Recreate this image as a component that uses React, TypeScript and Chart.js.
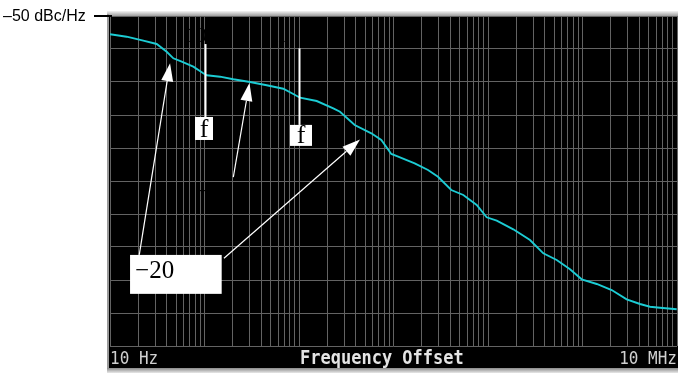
import React, { useEffect, useRef } from "react";
import { Chart, registerables } from "chart.js";

Chart.register(...registerables);

// ---- data ----
const freqHz = [
  10, 15.0, 22.5, 31.2, 39.8, 46.8, 57.4, 76.1, 97.1, 105.5, 145.9, 201.8, 303, 455, 682, 870,
  1025, 1539, 2307, 2716, 3885, 5824, 7430, 9478, 10706, 16760, 23180, 29570, 40890, 54780,
  75930, 96870, 123640, 185200, 278260, 384800, 533300, 737500, 980600, 1414000, 2037000,
  2935000, 4060000, 5180000, 6610000, 9930000,
];
const noiseDbcHz = [
  -55.55, -56.27, -57.48, -58.48, -60.82, -62.82, -63.85, -65.36, -67.36, -67.97, -68.39, -69.18,
  -70.0, -71.0, -72.03, -73.64, -74.76, -75.76, -77.97, -79.0, -83.03, -85.55, -87.58, -91.82,
  -92.42, -94.64, -96.67, -98.7, -102.73, -104.24, -107.27, -111.0, -112.03, -114.64, -117.88,
  -121.91, -123.94, -126.76, -129.79, -131.21, -133.03, -135.85, -137.27, -138.09, -138.39,
  -138.88,
];
const yTopDb = -50;
const yBottomDb = -150;
const yStepDb = 10;
const xMinHz = 10;
const xMaxHz = 1e7;
const decadeStarts = [10, 100, 1000, 1e4, 1e5, 1e6];
const decadeMultipliers = [1, 2, 3, 4, 5, 6, 7, 8, 9];
const xGridValues = decadeStarts
  .flatMap((d) => decadeMultipliers.map((m) => m * d))
  .concat([xMaxHz]);

const refLevelLabel = "\u201350 dBc/Hz";
const startLabel = "10 Hz";
const stopLabel = "10 MHz";
const axisTitle = "Frequency Offset";

// annotations (data coordinates)
const markerFreqs = [100, 1000];
const markerTopDb = [-58.5, -59.8];
const markerBottomDb = [-80.6, -83.0];
const markerText = ["f", "f"];
const slopeArrowFrom = [
  [20.4, -122.4],
  [201.8, -98.8],
  [160.7, -123.4],
];
const slopeArrowTo = [
  [43.2, -64.3],
  [299, -70.3],
  [4421, -87.4],
];
const slopeBoxCorners = [16.3, -122.4, 152, -134.2];
const slopeBoxText = "\u221220";
const hiddenTexts = ["10", "1", "\u221210"];
const hiddenTextPos = [
  [62.2, -57.9],
  [585, -57.9],
  [79.3, -105.2],
];

const framePlugin = {
  id: "frame",
  beforeDraw(chart: any) {
    const { ctx, chartArea } = chart;
    const W = chart.width;
    const H = chart.height;
    ctx.save();
    ctx.fillStyle = "#ffffff";
    ctx.fillRect(0, 0, W, H);
    const g = ctx.createLinearGradient(0, 11, 0, 16);
    g.addColorStop(0, "#f4f4f4");
    g.addColorStop(1, "#9c9c9c");
    ctx.fillStyle = g;
    ctx.fillRect(chartArea.left - 3, 11, W - chartArea.left + 3, 5);
    ctx.fillStyle = "#9a9a9a";
    ctx.fillRect(chartArea.left - 3, 14, 2, H - 14);
    const gb = ctx.createLinearGradient(0, 368, 0, H);
    gb.addColorStop(0, "#8a8a8a");
    gb.addColorStop(1, "#e8e8e8");
    ctx.fillStyle = gb;
    ctx.fillRect(chartArea.left - 3, 368, W - chartArea.left + 3, H - 368);
    ctx.fillStyle = "#000000";
    ctx.fillRect(chartArea.left - 1, chartArea.top, W - chartArea.left + 1, 368 - chartArea.top);
    ctx.restore();
  },
  afterDraw(chart: any) {
    const { ctx, chartArea, scales } = chart;
    const xs = scales.x;
    const ys = scales.y;
    ctx.save();

    ctx.fillStyle = "#000000";
    ctx.font = '22px "Liberation Serif", serif';
    ctx.textBaseline = "alphabetic";
    hiddenTexts.forEach((t, i) => {
      ctx.fillText(t, xs.getPixelForValue(hiddenTextPos[i][0]), ys.getPixelForValue(hiddenTextPos[i][1]));
    });

    markerFreqs.forEach((f, i) => {
      const x = Math.round(xs.getPixelForValue(f)) + 0.5;
      const y1 = ys.getPixelForValue(markerTopDb[i]);
      const y2 = ys.getPixelForValue(markerBottomDb[i]);
      ctx.strokeStyle = "#ffffff";
      ctx.lineWidth = 2;
      ctx.beginPath();
      ctx.moveTo(x, y1);
      ctx.lineTo(x, y2);
      ctx.stroke();
      ctx.font = '26px "Liberation Serif", serif';
      const w = i === 0 ? 18 : 22;
      const h = i === 0 ? 23 : 21;
      const bx = x - (i === 0 ? 10.5 : 9.5);
      ctx.fillStyle = "#ffffff";
      ctx.fillRect(bx, y2, w, h);
      ctx.fillStyle = "#000000";
      ctx.textAlign = "center";
      ctx.fillText(markerText[i], bx + w / 2, y2 + h - 3);
    });

    ctx.textAlign = "left";
    slopeArrowFrom.forEach((from, i) => {
      const x1 = xs.getPixelForValue(from[0]);
      const y1 = ys.getPixelForValue(from[1]);
      const x2 = xs.getPixelForValue(slopeArrowTo[i][0]);
      const y2 = ys.getPixelForValue(slopeArrowTo[i][1]);
      const ang = Math.atan2(y2 - y1, x2 - x1);
      const len = 18;
      const half = 6;
      const bx = x2 - len * Math.cos(ang);
      const by = y2 - len * Math.sin(ang);
      ctx.strokeStyle = "#ffffff";
      ctx.lineWidth = 1.2;
      ctx.beginPath();
      ctx.moveTo(x1, y1);
      ctx.lineTo(bx, by);
      ctx.stroke();
      ctx.fillStyle = "#ffffff";
      ctx.beginPath();
      ctx.moveTo(x2, y2);
      ctx.lineTo(bx + half * Math.sin(ang), by - half * Math.cos(ang));
      ctx.lineTo(bx - half * Math.sin(ang), by + half * Math.cos(ang));
      ctx.closePath();
      ctx.fill();
    });

    const l = xs.getPixelForValue(slopeBoxCorners[0]);
    const t = ys.getPixelForValue(slopeBoxCorners[1]);
    const r = xs.getPixelForValue(slopeBoxCorners[2]);
    const b = ys.getPixelForValue(slopeBoxCorners[3]);
    ctx.fillStyle = "#ffffff";
    ctx.fillRect(l, t, r - l, b - t);
    ctx.fillStyle = "#000000";
    ctx.font = '25px "Liberation Serif", serif';
    ctx.fillText(slopeBoxText, l + 5, t + 23);

    const bandBase = 364;
    const drawStretched = (txt: string, x: number, align: CanvasTextAlign, font: string, color: string) => {
      ctx.save();
      ctx.font = font;
      ctx.fillStyle = color;
      ctx.textAlign = align;
      ctx.translate(x, bandBase);
      ctx.scale(1, 1.14);
      ctx.fillText(txt, 0, 0);
      ctx.restore();
    };
    drawStretched(startLabel, chartArea.left, "left", '16px "DejaVu Sans Mono", monospace', "#d0d0d0");
    drawStretched(axisTitle, 300, "left", 'bold 17px "DejaVu Sans Mono", monospace', "#e4e4e4");
    drawStretched(stopLabel, chartArea.right, "right", '16px "DejaVu Sans Mono", monospace', "#d0d0d0");

    const yRef = Math.round(ys.getPixelForValue(yTopDb));
    ctx.fillStyle = "#000000";
    ctx.font = '16px "Liberation Sans", Arial, sans-serif';
    ctx.textAlign = "left";
    ctx.fillText(refLevelLabel, 3, yRef + 5);
    ctx.fillRect(94, yRef - 1, 18, 2);

    ctx.restore();
  },
};

export default function App() {
  const ref = useRef<HTMLCanvasElement | null>(null);
  useEffect(() => {
    document.body.style.margin = "0";
    if (!ref.current) return;
    const chart = new Chart(ref.current, {
      type: "line",
      data: {
        datasets: [
          {
            data: freqHz.map((f, i) => ({ x: f, y: noiseDbcHz[i] })),
            borderColor: "#1cccd4",
            borderWidth: 1.9,
            pointRadius: 0,
            tension: 0,
            fill: false,
          },
        ],
      },
      options: {
        animation: false,
        responsive: false,
        maintainAspectRatio: false,
        devicePixelRatio: 1,
        layout: { padding: { left: 110, right: 1, top: 16, bottom: 27 } },
        plugins: { legend: { display: false }, tooltip: { enabled: false } },
        events: [],
        scales: {
          x: {
            type: "logarithmic",
            min: xMinHz,
            max: xMaxHz,
            afterBuildTicks: (scale: any) => {
              scale.ticks = xGridValues.map((v) => ({ value: v }));
            },
            ticks: { display: false },
            grid: { color: "#636363", lineWidth: 1, drawTicks: false },
            border: { display: false },
          },
          y: {
            type: "linear",
            min: yBottomDb,
            max: yTopDb,
            ticks: { display: false, stepSize: yStepDb },
            grid: { color: "#636363", lineWidth: 1, drawTicks: false },
            border: { display: false },
          },
        },
      },
      plugins: [framePlugin],
    });
    return () => chart.destroy();
  }, []);
  return (
    <div style={{ width: 678, height: 373 }}>
      <canvas ref={ref} width={678} height={373} style={{ display: "block", width: 678, height: 373 }} />
    </div>
  );
}
